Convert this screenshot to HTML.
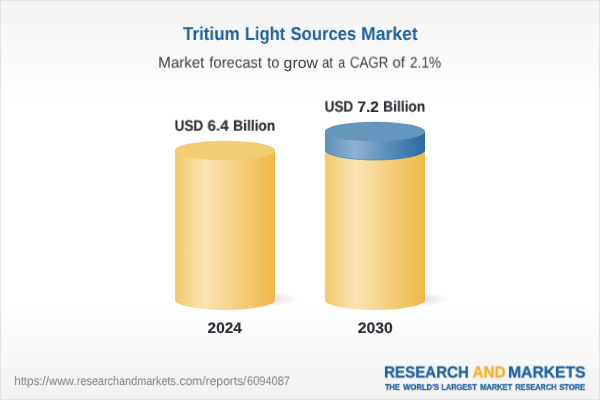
<!DOCTYPE html>
<html><head><meta charset="utf-8">
<style>
html,body{margin:0;padding:0;}
body{text-rendering:geometricPrecision;width:600px;height:400px;overflow:hidden;position:relative;font-family:"Liberation Sans",sans-serif;
background:linear-gradient(to bottom,#f3f3f3 0px,#ffffff 100px,#ffffff 300px,#f2f2f2 400px);}
#frame{position:absolute;left:0;top:0;width:598px;height:398px;border:1px solid #e3e3e3;}
svg{position:absolute;left:0;top:0;}
.w{will-change:transform;position:absolute;white-space:nowrap;line-height:20px;transform-origin:0 0;}
</style></head><body>
<svg width="600" height="400" viewBox="0 0 600 400">
<defs>
<linearGradient id="gy" x1="0" x2="1" y1="0" y2="0">
<stop offset="0" stop-color="#f3c96c"/><stop offset="0.30" stop-color="#fae4b4"/><stop offset="1" stop-color="#f0b845"/>
</linearGradient>
<linearGradient id="gb" x1="0" x2="1" y1="0" y2="0">
<stop offset="0" stop-color="#5b90bc"/><stop offset="0.30" stop-color="#8fb3d1"/><stop offset="0.62" stop-color="#5a8fba"/><stop offset="1" stop-color="#2a6aa3"/>
</linearGradient>
<radialGradient id="sh"><stop offset="0" stop-color="#000" stop-opacity="0.15"/><stop offset="1" stop-color="#000" stop-opacity="0"/></radialGradient>
</defs>
<ellipse cx="264" cy="299" rx="35" ry="8" fill="url(#sh)"/>
<ellipse cx="414" cy="299" rx="35" ry="8" fill="url(#sh)"/>
<path d="M175 150.5 L175 300 A50 10 0 0 0 275 300 L275 150.5 Z" fill="url(#gy)"/>
<ellipse cx="225" cy="150.5" rx="50" ry="9.8" fill="#f3cc76"/>
<path d="M325 150 L325 300 A50 10 0 0 0 425 300 L425 150 Z" fill="url(#gy)"/>
<path d="M325 131.5 L325 150 A50 10 0 0 0 425 150 L425 131.5 Z" fill="url(#gb)"/>
<path d="M325.5 150 A49.5 10 0 0 0 424.5 150" fill="none" stroke="#3a78b0" stroke-width="0.9" opacity="0.7"/>
<ellipse cx="375" cy="131.5" rx="50" ry="9.8" fill="#6496be"/>
</svg>
<div id="frame"></div>
<div class="w" style="left:183px;top:23px;font-size:18.5px;font-weight:bold;color:#1c5f9d;transform:translate(0.00px,0.90px) scaleX(0.9185)">Tritium</div>
<div class="w" style="left:244px;top:23px;font-size:18.5px;font-weight:bold;color:#1c5f9d;transform:translate(0.83px,0.90px) scaleX(0.8927)">Light</div>
<div class="w" style="left:290px;top:23px;font-size:18.5px;font-weight:bold;color:#1c5f9d;transform:translate(0.53px,0.90px) scaleX(0.8991)">Sources</div>
<div class="w" style="left:361px;top:23px;font-size:18.5px;font-weight:bold;color:#1c5f9d;transform:translate(0.02px,0.90px) scaleX(0.9501)">Market</div>
<div class="w" style="left:158px;top:53px;font-size:15.5px;font-weight:normal;color:#3e3e3e;transform:translate(0.21px,0.58px) scaleX(0.9745)">Market</div>
<div class="w" style="left:209px;top:53px;font-size:15.5px;font-weight:normal;color:#3e3e3e;transform:translate(0.25px,0.58px) scaleX(0.9590)">forecast</div>
<div class="w" style="left:267px;top:53px;font-size:15.5px;font-weight:normal;color:#3e3e3e;transform:translate(0.24px,0.58px) scaleX(0.9428)">to</div>
<div class="w" style="left:283px;top:53px;font-size:15.5px;font-weight:normal;color:#3e3e3e;transform:translate(0.62px,0.58px) scaleX(1.0213)">grow</div>
<div class="w" style="left:321px;top:53px;font-size:15.5px;font-weight:normal;color:#3e3e3e;transform:translate(0.96px,0.58px) scaleX(0.8579)">at</div>
<div class="w" style="left:338px;top:53px;font-size:15.5px;font-weight:normal;color:#3e3e3e;transform:translate(0.15px,0.58px) scaleX(0.8000)">a</div>
<div class="w" style="left:349px;top:53px;font-size:15.5px;font-weight:normal;color:#3e3e3e;transform:translate(0.83px,0.58px) scaleX(0.8600)">CAGR</div>
<div class="w" style="left:392px;top:53px;font-size:15.5px;font-weight:normal;color:#3e3e3e;transform:translate(0.37px,0.58px) scaleX(0.9797)">of</div>
<div class="w" style="left:409px;top:53px;font-size:15.5px;font-weight:normal;color:#3e3e3e;transform:translate(0.87px,0.58px) scaleX(0.8853)">2.1%</div>
<div class="w" style="left:174px;top:116px;font-size:15.2px;font-weight:bold;color:#2f2f36;-webkit-text-stroke:0.15px #2f2f36;transform:translate(0.62px,0.70px) scaleX(0.8926)">USD</div>
<div class="w" style="left:207px;top:116px;font-size:15.2px;font-weight:bold;color:#2f2f36;-webkit-text-stroke:0.15px #2f2f36;transform:translate(0.50px,0.70px) scaleX(0.9982)">6.4</div>
<div class="w" style="left:233px;top:116px;font-size:15.2px;font-weight:bold;color:#2f2f36;-webkit-text-stroke:0.15px #2f2f36;transform:translate(0.09px,0.70px) scaleX(0.9094)">Billion</div>
<div class="w" style="left:324px;top:97px;font-size:15.2px;font-weight:bold;color:#2f2f36;-webkit-text-stroke:0.15px #2f2f36;transform:translate(0.62px,0.60px) scaleX(0.8926)">USD</div>
<div class="w" style="left:357px;top:97px;font-size:15.2px;font-weight:bold;color:#2f2f36;-webkit-text-stroke:0.15px #2f2f36;transform:translate(0.43px,0.60px) scaleX(1.0199)">7.2</div>
<div class="w" style="left:383px;top:97px;font-size:15.2px;font-weight:bold;color:#2f2f36;-webkit-text-stroke:0.15px #2f2f36;transform:translate(0.09px,0.60px) scaleX(0.9094)">Billion</div>
<div class="w" style="left:207px;top:318px;font-size:15.2px;font-weight:bold;color:#2f2f36;-webkit-text-stroke:0.15px #2f2f36;transform:translate(0.60px,0.70px) scaleX(1.0097)">2024</div>
<div class="w" style="left:357px;top:318px;font-size:15.2px;font-weight:bold;color:#2f2f36;-webkit-text-stroke:0.15px #2f2f36;transform:translate(0.63px,0.70px) scaleX(1.0400)">2030</div>
<div class="w" style="left:14px;top:371px;font-size:12.4px;font-weight:normal;color:#7e7e7e;transform:translate(0.24px,0.02px) scaleX(0.9322)">https://www.</div>
<div class="w" style="left:76px;top:371px;font-size:12.4px;font-weight:normal;color:#7e7e7e;transform:translate(0.79px,0.02px) scaleX(0.8771)">researchandmarkets</div>
<div class="w" style="left:176px;top:371px;font-size:12.4px;font-weight:normal;color:#7e7e7e;transform:translate(0.02px,0.02px) scaleX(0.9754)">.com/reports/</div>
<div class="w" style="left:246px;top:371px;font-size:12.4px;font-weight:normal;color:#7e7e7e;transform:translate(0.98px,0.02px) scaleX(0.8913)">6094087</div>
<div class="w" style="left:384px;top:363px;font-size:16px;font-weight:bold;color:#1c5f9d;-webkit-text-stroke:0.35px #1c5f9d;transform:translate(0.06px,0.50px) scaleX(0.9439)">RESEARCH</div>
<div class="w" style="left:472px;top:363px;font-size:16px;font-weight:bold;color:#f3b02e;-webkit-text-stroke:0.35px #f3b02e;transform:translate(0.55px,0.50px) scaleX(0.9545)">AND</div>
<div class="w" style="left:508px;top:363px;font-size:16px;font-weight:bold;color:#1c5f9d;-webkit-text-stroke:0.35px #1c5f9d;transform:translate(0.02px,0.50px) scaleX(0.9788)">MARKETS</div>
<div class="w" style="left:384px;top:376px;font-size:8.4px;font-weight:bold;color:#1c5f9d;-webkit-text-stroke:0.3px #1c5f9d;transform:translate(0.98px,0.84px) scaleX(0.8778)">THE</div>
<div class="w" style="left:403px;top:376px;font-size:8.4px;font-weight:bold;color:#1c5f9d;-webkit-text-stroke:0.3px #1c5f9d;transform:translate(0.15px,0.84px) scaleX(0.9144)">WORLD'S</div>
<div class="w" style="left:441px;top:376px;font-size:8.4px;font-weight:bold;color:#1c5f9d;-webkit-text-stroke:0.3px #1c5f9d;transform:translate(0.41px,0.84px) scaleX(0.8807)">LARGEST</div>
<div class="w" style="left:480px;top:376px;font-size:8.4px;font-weight:bold;color:#1c5f9d;-webkit-text-stroke:0.3px #1c5f9d;transform:translate(0.11px,0.84px) scaleX(0.8951)">MARKET</div>
<div class="w" style="left:515px;top:376px;font-size:8.4px;font-weight:bold;color:#1c5f9d;-webkit-text-stroke:0.3px #1c5f9d;transform:translate(0.37px,0.84px) scaleX(0.8738)">RESEARCH</div>
<div class="w" style="left:559px;top:376px;font-size:8.4px;font-weight:bold;color:#1c5f9d;-webkit-text-stroke:0.3px #1c5f9d;transform:translate(0.34px,0.84px) scaleX(0.9020)">STORE</div>
</body></html>
